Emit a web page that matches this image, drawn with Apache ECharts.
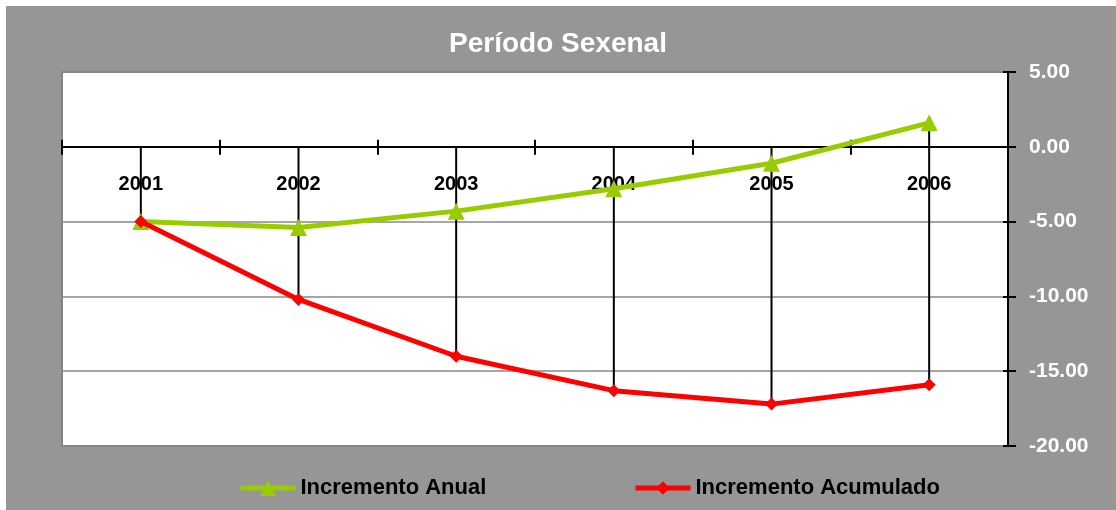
<!DOCTYPE html>
<html>
<head>
<meta charset="utf-8">
<script src="https://cdn.jsdelivr.net/npm/echarts@6/dist/echarts.min.js"></script>
<style>
  body { margin: 0; background: #ffffff; }
  #frame { position: absolute; left: 6px; top: 6px; width: 1110px; height: 504px; background: #969696; }
  #chart { position: absolute; left: 0; top: 0; width: 1116px; height: 510px; }
</style>
</head>
<body>
<div id="frame"></div>
<div id="chart"></div>
<script>
var years = ['2001', '2002', '2003', '2004', '2005', '2006'];
var incrementoAnual = [-5.0, -5.4, -4.3, -2.8, -1.1, 1.6];
var incrementoAcumulado = [-5.0, -10.2, -14.0, -16.3, -17.2, -15.9];
var yMin = -20, yMax = 5, yStep = 5;

var chart = echarts.init(document.getElementById('chart'));

// drop lines: from the highest point (or the axis) down to the lowest point
var dropData = years.map(function (y, i) {
  var hi = Math.max(0, incrementoAnual[i], incrementoAcumulado[i]);
  var lo = Math.min(incrementoAnual[i], incrementoAcumulado[i]);
  return [i, hi, lo];
});

var font = 'Liberation Sans, Arial, sans-serif';
var gridTop = 72, gridBottom = 64, chartH = 510;
var plotH = chartH - gridTop - gridBottom;
// move the category axis up from the bottom edge to the zero line
var zeroOffset = -(plotH * (0 - yMin) / (yMax - yMin));

var legendText = { color: '#000000', fontSize: 22, fontWeight: 'bold', fontFamily: font };

var option = {
  backgroundColor: 'transparent',
  animation: false,
  title: {
    text: 'Período Sexenal',
    left: 'center',
    top: 25,
    textStyle: { color: '#ffffff', fontSize: 28, fontWeight: 'bold', fontFamily: font }
  },
  legend: [
    {
      data: ['Incremento Anual'],
      left: 238,
      top: 477,
      padding: 0,
      itemWidth: 55,
      itemHeight: 20,
      itemGap: 5,
      lineStyle: { width: 5 },
      textStyle: legendText
    },
    {
      data: ['Incremento Acumulado'],
      left: 633,
      top: 477,
      padding: 0,
      itemWidth: 55,
      itemHeight: 17,
      lineStyle: { width: 5 },
      textStyle: legendText
    }
  ],
  grid: {
    left: 62,
    right: 108,
    top: gridTop,
    bottom: gridBottom,
    show: true,
    backgroundColor: '#ffffff',
    borderColor: '#858585',
    borderWidth: 2
  },
  xAxis: [
    {
      type: 'category',
      data: years,
      position: 'bottom',
      offset: zeroOffset,
      boundaryGap: true,
      axisLine: { show: true, onZero: false, lineStyle: { color: '#000000', width: 2 } },
      axisTick: { show: true, inside: false, length: 8, lineStyle: { color: '#000000', width: 2 } },
      axisLabel: { color: '#000000', fontSize: 20, fontWeight: 'bold', fontFamily: font, margin: 28 },
      splitLine: { show: false }
    },
    {
      type: 'category',
      data: years,
      position: 'bottom',
      offset: zeroOffset,
      boundaryGap: true,
      axisLine: { show: false, onZero: false },
      axisTick: { show: true, inside: true, length: 7, lineStyle: { color: '#000000', width: 2 } },
      axisLabel: { show: false },
      splitLine: { show: false }
    }
  ],
  yAxis: [
    {
      type: 'value',
      position: 'right',
      min: yMin,
      max: yMax,
      interval: yStep,
      axisLine: { show: true, lineStyle: { color: '#000000', width: 2 } },
      axisTick: { show: true, length: 8, lineStyle: { color: '#000000', width: 2 } },
      axisLabel: {
        color: '#ffffff', fontSize: 21, fontWeight: 'bold', fontFamily: font, margin: 21,
        formatter: function (v) { return v.toFixed(2); }
      },
      splitLine: { show: true, lineStyle: { color: '#888888', width: 1.5 } }
    },
    {
      type: 'value',
      position: 'right',
      min: yMin,
      max: yMax,
      interval: yStep,
      axisLine: { show: false },
      axisTick: { show: true, inside: true, length: 5, lineStyle: { color: '#000000', width: 2 } },
      axisLabel: { show: false },
      splitLine: { show: false }
    }
  ],
  series: [
    {
      type: 'custom',
      name: 'drop',
      data: dropData,
      z: 1,
      silent: true,
      renderItem: function (params, api) {
        var p1 = api.coord([api.value(0), api.value(1)]);
        var p2 = api.coord([api.value(0), api.value(2)]);
        return {
          type: 'line',
          shape: { x1: p1[0], y1: p1[1], x2: p2[0], y2: p2[1] },
          style: { stroke: '#000000', lineWidth: 2 }
        };
      }
    },
    {
      name: 'Incremento Anual',
      type: 'line',
      data: incrementoAnual,
      z: 3,
      symbol: 'triangle',
      symbolSize: 17,
      lineStyle: { color: '#99CC00', width: 5 },
      itemStyle: { color: '#99CC00' }
    },
    {
      name: 'Incremento Acumulado',
      type: 'line',
      data: incrementoAcumulado,
      z: 4,
      symbol: 'diamond',
      symbolSize: 13,
      lineStyle: { color: '#FF0000', width: 5 },
      itemStyle: { color: '#FF0000' }
    }
  ]
};

chart.setOption(option);
</script>
</body>
</html>
